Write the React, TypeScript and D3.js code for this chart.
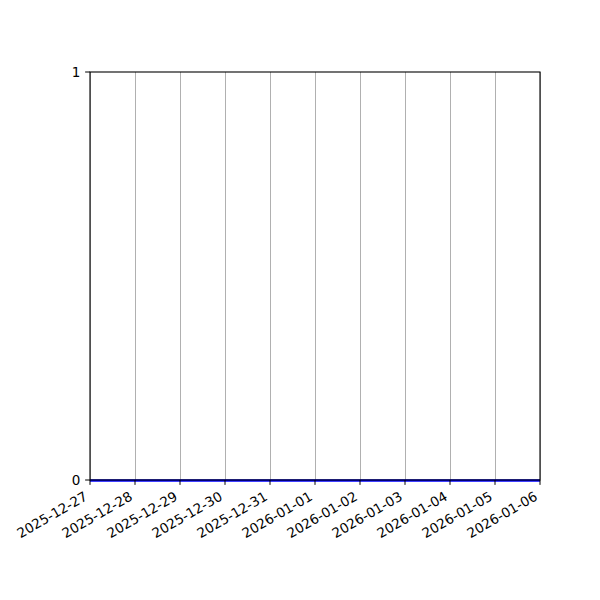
import React from 'react';
import * as d3 from 'd3';

const dates: string[] = [
  '2025-12-27', '2025-12-28', '2025-12-29', '2025-12-30', '2025-12-31',
  '2026-01-01', '2026-01-02', '2026-01-03', '2026-01-04', '2026-01-05', '2026-01-06',
];
const values: number[] = [0, 0, 0, 0, 0, 0, 0, 0, 0, 0, 0];
const yTicks: number[] = [0, 1];

const W = 600;
const H = 600;
const margin = { top: 72, right: 60, bottom: 120, left: 90 };
const FONT = 'DejaVu Sans, sans-serif';

const App: React.FC = () => {
  const parse = d3.utcParse('%Y-%m-%d');
  const data = dates.map((d, i) => ({ date: parse(d) as Date, value: values[i] }));

  const x = d3
    .scaleUtc()
    .domain(d3.extent(data, (d) => d.date) as [Date, Date])
    .range([margin.left, W - margin.right]);
  const y = d3.scaleLinear().domain([0, 1]).range([H - margin.bottom, margin.top]);

  const line = d3
    .line<{ date: Date; value: number }>()
    .x((d) => x(d.date))
    .y((d) => y(d.value));

  const fmt = d3.utcFormat('%Y-%m-%d');
  const bottom = H - margin.bottom;
  const tickLen = 4.86;
  const fontSize = 13.5;

  return (
    <svg width={W} height={H} style={{ display: 'block', margin: -8 }} fontFamily={FONT}>
      <rect width={W} height={H} fill="white" />
      {/* vertical grid */}
      {data.map((d, i) => (
        <line
          key={'g' + i}
          x1={Math.round(x(d.date)) + 0.5}
          x2={Math.round(x(d.date)) + 0.5}
          y1={margin.top}
          y2={bottom}
          stroke="#b0b0b0"
          strokeWidth={1}
        />
      ))}
      {/* data line */}
      <path d={line(data) ?? ''} fill="none" stroke="#0000ff" strokeWidth={2.5} transform="translate(0,0.5)" />
      {/* spines */}
      <rect
        x={margin.left}
        y={margin.top}
        width={W - margin.left - margin.right}
        height={bottom - margin.top}
        fill="none"
        stroke="black"
        strokeWidth={1.1}
      />
      {/* x ticks */}
      {data.map((d, i) => {
        const tx = x(d.date);
        return (
          <g key={'x' + i}>
            <line x1={tx} x2={tx} y1={bottom} y2={bottom + tickLen} stroke="black" strokeWidth={1} />
            <text
              transform={`translate(${tx - 1.6},${bottom + tickLen + 4.86 + 9.5}) rotate(-30)`}
              textAnchor="end"
              fontSize={fontSize}
              fill="black"
            >
              {fmt(d.date)}
            </text>
          </g>
        );
      })}
      {/* y ticks */}
      {yTicks.map((t) => (
        <g key={'y' + t}>
          <line
            x1={margin.left - tickLen}
            x2={margin.left}
            y1={y(t)}
            y2={y(t)}
            stroke="black"
            strokeWidth={1}
          />
          <text
            x={margin.left - tickLen - 4.86}
            y={y(t)}
            dy="0.35em"
            textAnchor="end"
            fontSize={fontSize}
            fill="black"
          >
            {t}
          </text>
        </g>
      ))}
    </svg>
  );
};

export default App;
